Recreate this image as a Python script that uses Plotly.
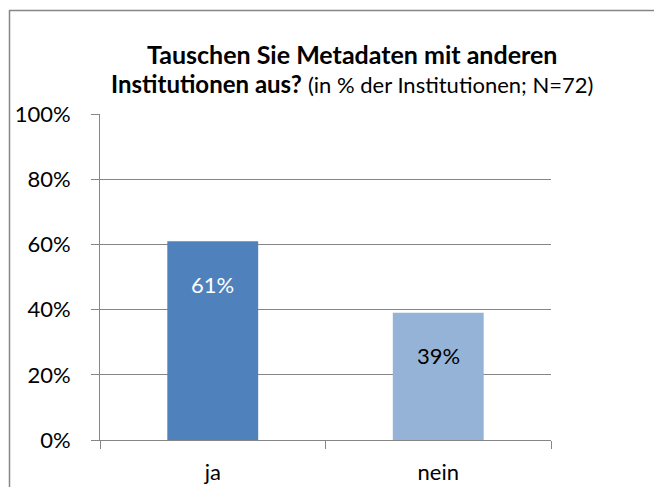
import plotly.graph_objects as go

categories = ["ja", "nein"]
values = [61, 39]
labels = ["61%", "39%"]
bar_colors = ["#4F81BD", "#95B3D7"]
label_colors = ["white", "black"]
tick_vals = [0, 20, 40, 60, 80, 100]
tick_text = ["0%", "20%", "40%", "60%", "80%", "100%"]

# page body has an 8px margin, so the figure is drawn from (8, 8)
OFF = 8
W, H = 662 - OFF, 487 - OFF
L, T = 100 - OFF, 114 - OFF
pw, ph = 451, 326
R, B = W - L - pw, H - T - ph

def px_x(p):  # reference screen px -> paper x
    return (p - OFF - L) / pw

def px_y(p):  # reference screen px -> paper y
    return (T + ph - (p - OFF)) / ph

FONT = "Lato"
GRAY = "#868686"

fig = go.Figure()
fig.add_trace(go.Bar(
    x=categories, y=values, width=0.403,
    marker=dict(color=bar_colors, line=dict(width=0)),
    hoverinfo="skip",
))

annotations = [
    dict(text="<b>Tauschen Sie Metadaten mit anderen</b>",
         xref="paper", yref="paper", x=px_x(352), y=px_y(54),
         xanchor="center", yanchor="middle", showarrow=False,
         font=dict(size=25, family=FONT, color="black")),
    dict(text="<b>Institutionen aus?</b> <span style='font-size:22px'>(in % der Institutionen; N=72)</span>",
         xref="paper", yref="paper", x=px_x(352), y=px_y(83),
         xanchor="center", yanchor="middle", showarrow=False,
         font=dict(size=24, family=FONT, color="black")),
]
for c, v, t, col in zip(categories, values, labels, label_colors):
    annotations.append(dict(
        text=t, x=c, y=v, xref="x", yref="y", yanchor="middle", xanchor="center",
        yshift=-43, showarrow=False, font=dict(size=22, family=FONT, color=col)))

fig.update_layout(
    width=W, height=H,
    margin=dict(l=L, r=R, t=T, b=B, pad=0, autoexpand=False),
    paper_bgcolor="white", plot_bgcolor="white",
    showlegend=False,
    font=dict(family=FONT, color="black", size=22),
    xaxis=dict(
        type="category", showgrid=False, showline=True, linecolor=GRAY, linewidth=1,
        ticks="outside", tickson="boundaries", ticklen=8, tickcolor=GRAY,
        tickfont=dict(size=22, family=FONT, color="black"),
        range=[-0.5, 1.5], ticklabelstandoff=13, automargin=False,
    ),
    yaxis=dict(
        range=[0, 100], tickvals=tick_vals, ticktext=tick_text,
        showgrid=True, gridcolor=GRAY, gridwidth=1,
        showline=True, linecolor=GRAY, linewidth=1,
        ticks="outside", ticklen=8, tickcolor=GRAY,
        tickfont=dict(size=22, family=FONT, color="black"),
        zeroline=False, ticklabelstandoff=16, automargin=False,
    ),
    annotations=annotations,
    shapes=[
        dict(type="rect", xref="paper", yref="paper",
             x0=px_x(9.5), x1=px_x(658.5), y0=px_y(520), y1=px_y(10.5),
             line=dict(color=GRAY, width=1.5), fillcolor="rgba(0,0,0,0)", layer="below"),
    ],
)

fig.write_html("out.html")
